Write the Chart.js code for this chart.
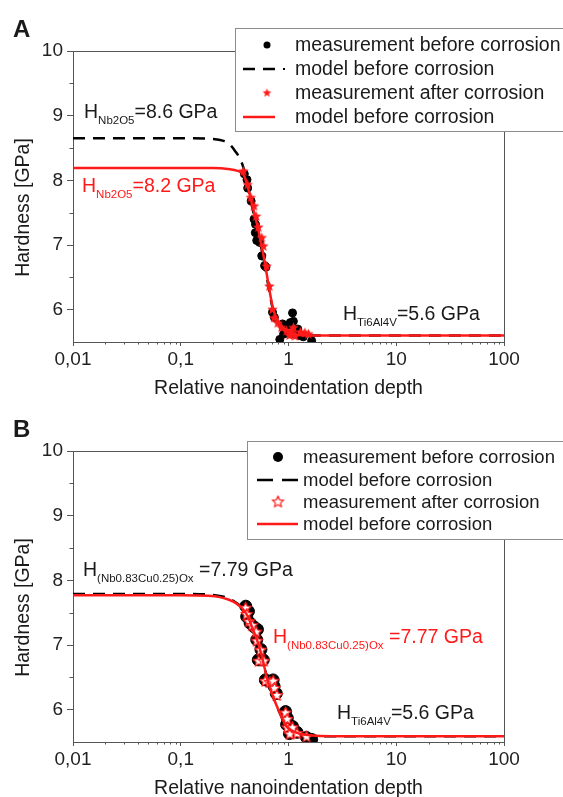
<!DOCTYPE html>
<html>
<head>
<meta charset="utf-8">
<script src="https://cdn.jsdelivr.net/npm/chart.js@4.4.0/dist/chart.umd.min.js"></script>
<style>
html, body { margin: 0; padding: 0; background: #fff; }
#wrap { position: relative; width: 563px; height: 797px; overflow: hidden; }
canvas { position: absolute; left: 0; }
#chartA { top: 0; }
#chartB { top: 400px; }
</style>
</head>
<body>
<div id="wrap">
  <canvas id="chartA" width="563" height="400"></canvas>
  <canvas id="chartB" width="563" height="400"></canvas>
</div>
<script>
const FONT = '"Liberation Sans", Arial, Helvetica, sans-serif';
const RED = '#ff1a1a';
const INK = '#1a1a1a';

// axes
const xTickValues = [0.01, 0.1, 1, 10, 100];
const xTickLabels = ['0,01', '0,1', '1', '10', '100'];
const yTickValues = [6, 7, 8, 9, 10];
const yTickLabels = ['6', '7', '8', '9', '10'];

const seriesLabels = ['measurement before corrosion', 'model before corrosion',
                      'measurement after corrosion', 'model before corrosion'];

// panel A
const aDotsX = [0.389, 0.412, 0.418, 0.45, 0.479, 0.494, 0.492, 0.507, 0.54, 0.565, 0.60, 0.618, 0.71, 0.74, 0.83, 0.88, 0.90, 1.0, 1.04, 1.09, 1.11, 1.15, 1.22, 1.26, 1.37, 1.64];
const aDotsY = [8.10, 8.01, 7.88, 7.68, 7.40, 7.32, 7.19, 7.07, 7.04, 6.83, 6.68, 6.66, 5.96, 5.88, 5.54, 5.78, 5.62, 5.76, 5.80, 5.95, 5.82, 5.62, 5.70, 5.60, 5.58, 5.52];
const aModelBlackX = [0.01, 0.1, 0.2, 0.25, 0.284, 0.32, 0.345, 0.381, 0.41, 0.456, 0.507, 0.565, 0.618, 0.664, 0.723, 0.834, 1.03, 1.47, 2, 100];
const aModelBlackY = [8.65, 8.65, 8.64, 8.61, 8.56, 8.45, 8.37, 8.2, 7.98, 7.62, 7.28, 6.92, 6.58, 6.28, 5.98, 5.75, 5.63, 5.6, 5.6, 5.6];
const aStarsX = [0.381, 0.418, 0.447, 0.479, 0.50, 0.524, 0.565, 0.584, 0.627, 0.664, 0.71, 0.735, 0.795, 0.86, 0.96, 1.02, 1.05, 1.08, 1.11, 1.15, 1.29, 1.42, 1.53];
const aStarsY = [8.14, 7.93, 7.73, 7.60, 7.44, 7.27, 7.11, 6.98, 6.67, 6.36, 6.00, 5.87, 5.79, 5.72, 5.67, 5.60, 5.65, 5.62, 5.72, 5.59, 5.65, 5.64, 5.62];
const aModelRedX = [0.01, 0.1, 0.2, 0.287, 0.33, 0.381, 0.409, 0.456, 0.507, 0.565, 0.618, 0.664, 0.723, 0.834, 1.03, 1.47, 2, 100];
const aModelRedY = [8.19, 8.19, 8.19, 8.17, 8.15, 8.09, 7.96, 7.65, 7.34, 6.98, 6.62, 6.31, 6.0, 5.77, 5.64, 5.6, 5.6, 5.6];

// panel B
const bDotsX = [0.401, 0.425, 0.409, 0.44, 0.479, 0.515, 0.507, 0.555, 0.524, 0.584, 0.61, 0.664, 0.72, 0.735, 0.77, 0.94, 0.975, 0.96, 1.09, 1.02, 1.2, 1.47, 1.64];
const bDotsY = [7.60, 7.52, 7.44, 7.34, 7.28, 7.24, 7.08, 6.93, 6.77, 6.77, 6.46, 6.44, 6.46, 6.36, 6.25, 5.97, 5.87, 5.77, 5.74, 5.63, 5.65, 5.57, 5.54];
const bModelX = [0.01, 0.1, 0.18, 0.23, 0.28, 0.33, 0.38, 0.42, 0.46, 0.51, 0.565, 0.638, 0.72, 0.83, 0.96, 1.2, 1.67, 2.5, 100];
const bModelBlackY = [7.79, 7.79, 7.78, 7.76, 7.72, 7.65, 7.56, 7.45, 7.28, 7.09, 6.84, 6.47, 6.2, 5.95, 5.74, 5.64, 5.6, 5.59, 5.59];
const bStarsX = [0.40, 0.41, 0.43, 0.46, 0.50, 0.51, 0.55, 0.53, 0.59, 0.61, 0.67, 0.72, 0.74, 0.78, 0.94, 0.97, 0.98, 1.09, 1.03, 1.2, 1.47];
const bStarsY = [7.57, 7.47, 7.36, 7.30, 7.20, 7.06, 6.92, 6.75, 6.75, 6.44, 6.42, 6.44, 6.33, 6.22, 5.95, 5.85, 5.72, 5.72, 5.62, 5.63, 5.58];
const bModelRedY = [7.77, 7.77, 7.76, 7.74, 7.70, 7.64, 7.55, 7.44, 7.27, 7.08, 6.83, 6.46, 6.2, 5.95, 5.74, 5.64, 5.6, 5.59, 5.59];

const pts = (xs, ys) => xs.map((x, i) => ({ x, y: ys[i] }));

function starCanvas(r, fill, stroke, lw) {
  const s = Math.ceil(2 * r + 2 * lw + 2);
  const c = document.createElement('canvas');
  c.width = s; c.height = s;
  const g = c.getContext('2d');
  g.beginPath();
  for (let k = 0; k < 10; k++) {
    const rad = k % 2 ? r * 0.45 : r;
    const ang = -Math.PI / 2 + k * Math.PI / 5;
    g.lineTo(s / 2 + rad * Math.cos(ang), s / 2 + rad * Math.sin(ang));
  }
  g.closePath();
  g.fillStyle = fill; g.fill();
  if (stroke) { g.strokeStyle = stroke; g.lineWidth = lw; g.lineJoin = 'round'; g.stroke(); }
  return c;
}

function drawH(ctx, a) {
  ctx.fillStyle = a.color;
  ctx.textAlign = 'left';
  ctx.textBaseline = 'alphabetic';
  ctx.font = '19.5px ' + FONT;
  ctx.fillText('H', a.x, a.y);
  let x = a.x + ctx.measureText('H').width;
  ctx.font = '11.5px ' + FONT;
  ctx.fillText(a.sub, x, a.y + 6);
  x += ctx.measureText(a.sub).width;
  ctx.font = '19.5px ' + FONT;
  ctx.fillText(a.rest, x, a.y);
}

const decor = {
  id: 'decor',
  afterDraw(chart, args, o) {
    const ctx = chart.ctx, a = chart.chartArea;
    const xs = chart.scales.x, ys = chart.scales.y;
    ctx.save();
    // frame top + right
    ctx.strokeStyle = '#555'; ctx.lineWidth = 1;
    ctx.beginPath();
    ctx.moveTo(a.left, Math.round(a.top) + 0.5); ctx.lineTo(a.right, Math.round(a.top) + 0.5);
    ctx.moveTo(Math.round(a.right) + 0.5, a.top); ctx.lineTo(Math.round(a.right) + 0.5, a.bottom);
    // minor ticks
    for (let e = -2; e < 2; e++) {
      for (let m = 2; m < 10; m++) {
        const px = Math.round(xs.getPixelForValue(m * Math.pow(10, e))) + 0.5;
        ctx.moveTo(px, a.bottom); ctx.lineTo(px, a.bottom + 2.5);
      }
    }
    for (let i = 0; i < yTickValues.length; i++) {
      const py = Math.round(ys.getPixelForValue(yTickValues[i] - 0.5)) + 0.5;
      if (i > 0) { ctx.moveTo(a.left - 3.5, py); ctx.lineTo(a.left, py); }
    }
    ctx.stroke();

    // annotations
    o.notes.forEach(n => drawH(ctx, n));

    // axis titles
    ctx.fillStyle = INK;
    ctx.font = '19.5px ' + FONT;
    ctx.textAlign = 'center';
    ctx.textBaseline = 'alphabetic';
    ctx.fillText('Relative nanoindentation depth', (a.left + a.right) / 2, 394);
    ctx.save();
    ctx.translate(29, (a.top + a.bottom) / 2 + 11);
    ctx.rotate(-Math.PI / 2);
    ctx.fillText('Hardness [GPa]', 0, 0);
    ctx.restore();

    // panel letter
    ctx.font = 'bold 24px ' + FONT;
    ctx.textAlign = 'left';
    ctx.fillText(o.letter, 13, 37);

    // legend
    const L = o.legend;
    ctx.fillStyle = '#fff';
    ctx.fillRect(L.left, L.top, L.right - L.left, L.bottom - L.top);
    ctx.strokeStyle = '#8c8c8c'; ctx.lineWidth = 1;
    ctx.strokeRect(L.left + 0.5, L.top + 0.5, L.right - L.left, L.bottom - L.top);
    chart.data.datasets.forEach((ds, i) => {
      const y = L.rows[i];
      if (ds.showLine) {
        ctx.strokeStyle = ds.borderColor; ctx.lineWidth = ds.borderWidth;
        ctx.setLineDash(ds.borderDash ? L.dash : []);
        ctx.beginPath(); ctx.moveTo(L.line0, y); ctx.lineTo(L.line1, y); ctx.stroke();
        ctx.setLineDash([]);
        if (L.dashDot && ds.borderDash) {
          ctx.fillStyle = ds.borderColor;
          ctx.fillRect(L.line1 + 8, y - 1, 2, 2);
        }
      } else {
        Chart.helpers.drawPoint(ctx, { pointStyle: ds.legendStyle, radius: ds.legendRadius, rotation: 0, borderWidth: 0 }, L.mark, y);
        if (ds.legendStyle === 'circle') { ctx.fillStyle = '#000'; ctx.beginPath(); ctx.arc(L.mark, y, ds.legendRadius, 0, Math.PI * 2); ctx.fill(); }
      }
      ctx.fillStyle = INK;
      ctx.font = L.font + 'px ' + FONT;
      ctx.textAlign = 'left';
      ctx.textBaseline = 'middle';
      ctx.fillText(ds.label, L.text, y + 1);
    });
    ctx.restore();
  }
};

function makeOptions(cfg) {
  return {
    responsive: false,
    animation: false,
    devicePixelRatio: 1,
    layout: { padding: { left: 0, top: 51, right: 59, bottom: 0 } },
    plugins: { legend: { display: false }, tooltip: { enabled: false }, decor: cfg },
    scales: {
      x: {
        type: 'logarithmic', position: 'bottom', min: 0.01, max: 100,
        border: { color: '#555', width: 1 },
        grid: { drawOnChartArea: false, drawTicks: true, tickLength: 4, color: '#555' },
        ticks: {
          autoSkip: false, maxRotation: 0, color: '#222', padding: 2,
          font: { family: FONT, size: 19 },
          callback: v => { const i = xTickValues.indexOf(v); return i < 0 ? '' : xTickLabels[i]; }
        },
        afterBuildTicks: s => { s.ticks = xTickValues.map(v => ({ value: v })); },
        afterFit: s => { s.height = 58; }
      },
      y: {
        type: 'linear', position: 'left', min: 5.5, max: 10,
        border: { color: '#555', width: 1 },
        grid: { drawOnChartArea: false, drawTicks: true, tickLength: 6, color: '#555' },
        ticks: {
          color: '#222', padding: 4,
          font: { family: FONT, size: 19 },
          callback: v => { const i = yTickValues.indexOf(v); return i < 0 ? '' : yTickLabels[i]; }
        },
        afterBuildTicks: s => { s.ticks = yTickValues.map(v => ({ value: v })); },
        afterFit: s => { s.width = 73; }
      }
    }
  };
}

function makeDatasets(p) {
  return [
    { label: seriesLabels[0], data: p.dots, showLine: false, order: 4,
      pointStyle: 'circle', pointRadius: p.dotR, pointBackgroundColor: '#000', pointBorderColor: '#000', pointBorderWidth: 1,
      legendStyle: 'circle', legendRadius: p.legDotR },
    { label: seriesLabels[1], data: p.black, showLine: true, order: 3,
      borderColor: '#000', borderWidth: 2.5, borderDash: [12, 8], pointRadius: 0, cubicInterpolationMode: 'monotone', fill: false },
    { label: seriesLabels[2], data: p.stars, showLine: false, order: 2,
      pointStyle: p.star, pointRadius: 5,
      legendStyle: p.legStar, legendRadius: 4 },
    { label: seriesLabels[3], data: p.red, showLine: true, order: 1,
      borderColor: RED, borderWidth: 2.5, pointRadius: 0, cubicInterpolationMode: 'monotone', fill: false }
  ];
}

new Chart(document.getElementById('chartA'), {
  type: 'scatter',
  data: { datasets: makeDatasets({
    dots: pts(aDotsX, aDotsY), black: pts(aModelBlackX, aModelBlackY),
    stars: pts(aStarsX, aStarsY), red: pts(aModelRedX, aModelRedY),
    dotR: 4, legDotR: 3.5,
    star: starCanvas(5.5, RED, null, 0), legStar: starCanvas(4.5, RED, null, 0)
  }) },
  options: makeOptions({
    letter: 'A',
    notes: [
      { x: 84, y: 117.5, color: INK, sub: 'Nb2O5', rest: '=8.6 GPa' },
      { x: 82, y: 191.5, color: RED, sub: 'Nb2O5', rest: '=8.2 GPa' },
      { x: 343, y: 320, color: INK, sub: 'Ti6Al4V', rest: '=5.6 GPa' }
    ],
    legend: { left: 235, top: 28, right: 600, bottom: 131, rows: [45, 69, 93, 117],
      mark: 267, line0: 243, line1: 275, dash: [12, 8], dashDot: true, text: 295, font: 19.5 }
  }),
  plugins: [decor]
});

new Chart(document.getElementById('chartB'), {
  type: 'scatter',
  data: { datasets: makeDatasets({
    dots: pts(bDotsX, bDotsY), black: pts(bModelX, bModelBlackY),
    stars: pts(bStarsX, bStarsY), red: pts(bModelX, bModelRedY),
    dotR: 6, legDotR: 5,
    star: starCanvas(6, '#fff', RED, 1.2), legStar: starCanvas(6, '#fff', RED, 1.2)
  }) },
  options: makeOptions({
    letter: 'B',
    notes: [
      { x: 83, y: 176, color: INK, sub: '(Nb0.83Cu0.25)Ox', rest: ' =7.79 GPa' },
      { x: 273, y: 243, color: RED, sub: '(Nb0.83Cu0.25)Ox', rest: ' =7.77 GPa' },
      { x: 337, y: 319, color: INK, sub: 'Ti6Al4V', rest: '=5.6 GPa' }
    ],
    legend: { left: 247, top: 41, right: 600, bottom: 139, rows: [57, 80, 102, 124],
      mark: 278, line0: 257, line1: 298, dash: [16, 9], dashDot: false, text: 303, font: 18.5 }
  }),
  plugins: [decor]
});
</script>
</body>
</html>
